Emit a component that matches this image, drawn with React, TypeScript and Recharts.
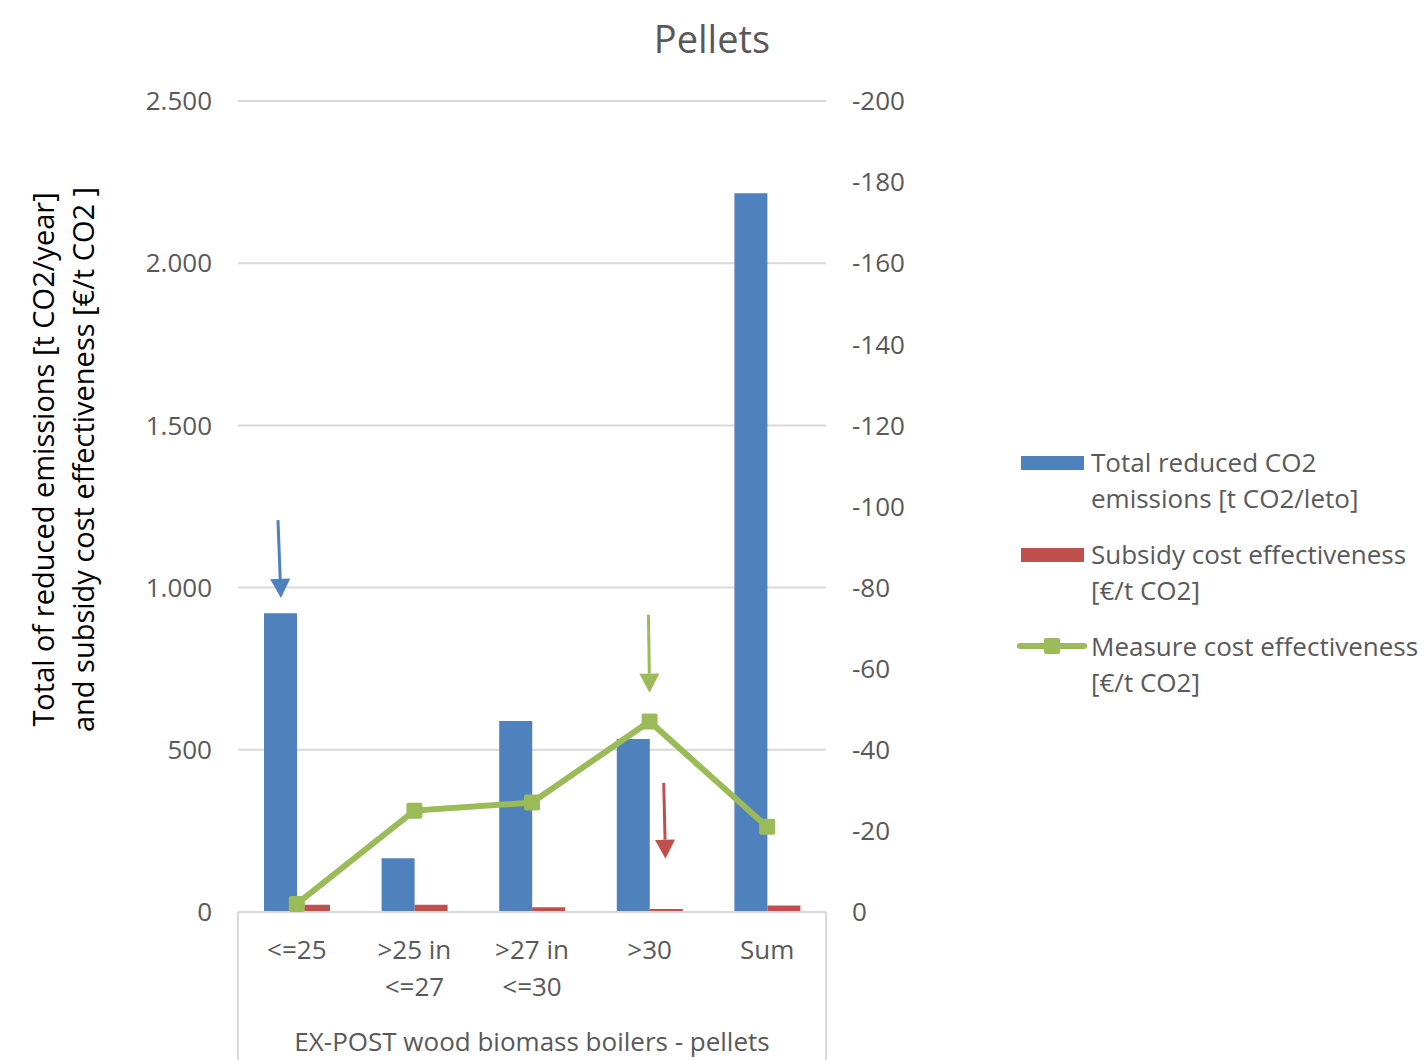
import { ComposedChart, Bar, Line, XAxis, YAxis, CartesianGrid, ReferenceLine } from "recharts";

const categories = ["<=25", ">25 in\n<=27", ">27 in\n<=30", ">30", "Sum"];
const reducedCO2 = [921, 166, 589, 533, 2216];
const subsidyCost = [22, 22, 15, 9, 20];
const measureCost = [-2, -25, -27, -47, -21];

const leftTicks = [0, 500, 1000, 1500, 2000, 2500];
const rightTicks = [0, -20, -40, -60, -80, -100, -120, -140, -160, -180, -200];

const seriesNames = [
    "Total reduced CO2\nemissions [t CO2/leto]",
    "Subsidy cost effectiveness\n[€/t CO2]",
    "Measure cost effectiveness\n[€/t CO2]",
];
const groupLabel = "EX-POST wood biomass boilers - pellets";
const yLabelLines = ["Total of reduced emissions [t CO2/year]", "and subsidy cost effectiveness [€/t CO2 ]"];

// arrows: [x on 0..5 category scale, y on left axis] start -> tip
const arrows = [
    { from: { x: 0.34, y: 1208 }, to: { x: 0.365, y: 968 }, color: "#4F81BD" },
    { from: { x: 3.49, y: 916 }, to: { x: 3.5, y: 676 }, color: "#9BBB59" },
    { from: { x: 3.62, y: 398 }, to: { x: 3.635, y: 164 }, color: "#C0504D" },
];

const BLUE = "#4F81BD";
const RED = "#C0504D";
const GREEN = "#9BBB59";
const TEXT = "#595959";
const GRID = "#D9D9D9";
const FONT = "'Open Sans', sans-serif";
const FS = 26;

const data = categories.map((c, i) => ({
    name: c,
    pos: i + 0.5,
    reduced: reducedCO2[i],
    subsidy: subsidyCost[i],
    measure: measureCost[i],
}));

const fmtThousands = (v: number) => String(v).replace(/\B(?=(\d{3})+(?!\d))/g, ".");

function CategoryTick(props: any) {
    const { x, y, payload } = props;
    const lines = String(payload.value).split("\n");
    return (
        <g>
            {lines.map((l, i) => (
                <text key={i} x={x} y={y + 47 + i * 37} textAnchor="middle" fill={TEXT} fontSize={FS} fontFamily={FONT}>
                    {l}
                </text>
            ))}
        </g>
    );
}

function GroupBox(props: any) {
    const { x, y, width, height } = props.viewBox;
    return (
        <g>
            <line x1={x} y1={y} x2={x} y2={y + height} stroke={GRID} strokeWidth={2} />
            <line x1={x + width} y1={y} x2={x + width} y2={y + height} stroke={GRID} strokeWidth={2} />
            <text x={x + width / 2} y={y + 139} textAnchor="middle" fill={TEXT} fontSize={FS} fontFamily={FONT}>
                {groupLabel}
            </text>
        </g>
    );
}

function YLabel(props: any) {
    const { x, y, height } = props.viewBox;
    const cy = y + height / 2 - 47;
    return (
        <g>
            {yLabelLines.map((l, i) => {
                const cx = x - 76 + i * 40;
                return (
                    <text key={i} x={cx} y={cy} transform={`rotate(-90 ${cx} ${cy})`} textAnchor="middle"
                        dominantBaseline="central" fill="#000" fontSize={29} fontFamily={FONT}>
                        {l}
                    </text>
                );
            })}
        </g>
    );
}

const makeArrow = (color: string) => (props: any) => {
    const { x1, y1, x2, y2 } = props;
    const ang = Math.atan2(y2 - y1, x2 - x1);
    const len = 19;
    const half = 10;
    const bx = x2 - len * Math.cos(ang);
    const by = y2 - len * Math.sin(ang);
    const px = -Math.sin(ang) * half;
    const py = Math.cos(ang) * half;
    return (
        <g>
            <line x1={x1} y1={y1} x2={bx} y2={by} stroke={color} strokeWidth={3} />
            <polygon points={`${x2},${y2} ${bx + px},${by + py} ${bx - px},${by - py}`} fill={color} />
        </g>
    );
};

function SquareDot(props: any) {
    const { cx, cy } = props;
    if (cx == null || cy == null) return null;
    return <rect x={cx - 8} y={cy - 8} width={16} height={16} rx={2} fill={GREEN} />;
}

function LegendBox() {
    const kinds = [BLUE, RED, GREEN];
    return (
        <div style={{ position: "absolute", left: 1017, top: 444, fontFamily: FONT, fontSize: FS, color: TEXT }}>
            {seriesNames.map((n, i) => (
                <div key={i} style={{ position: "relative", height: 92 }}>
                    {i < 2 ? (
                        <div style={{ position: "absolute", left: 4, top: 12, width: 63, height: 14, background: kinds[i] }} />
                    ) : (
                        <>
                            <div style={{ position: "absolute", left: 0, top: 15, width: 70, height: 6, background: GREEN, borderRadius: 3 }} />
                            <div style={{ position: "absolute", left: 27, top: 10, width: 16, height: 16, background: GREEN, borderRadius: 2 }} />
                        </>
                    )}
                    <div style={{ position: "absolute", left: 74, top: 0, lineHeight: "36px", whiteSpace: "pre" }}>{n}</div>
                </div>
            ))}
        </div>
    );
}

export default function App() {
    return (
        <div style={{ position: "absolute", left: 0, top: 0, width: 1424, height: 1060, background: "#fff", fontFamily: FONT }}>
            <div style={{ position: "absolute", left: 0, width: 1424, top: 12, textAlign: "center", fontSize: 38, color: TEXT }}>
                Pellets
            </div>
            <ComposedChart
                width={1424}
                height={1060}
                data={data}
                margin={{ top: 101, right: 498, bottom: 0, left: 118 }}
                barGap={0}
            >
                <CartesianGrid vertical={false} stroke={GRID} strokeWidth={2} yAxisId="left" xAxisId="cat" />
                <XAxis
                    xAxisId="cat"
                    dataKey="name"
                    height={148}
                    interval={0}
                    tickLine={false}
                    tickSize={0}
                    tickMargin={0}
                    axisLine={{ stroke: GRID, strokeWidth: 2 }}
                    tick={CategoryTick}
                    label={GroupBox}
                />
                <XAxis xAxisId="pos" dataKey="pos" type="number" domain={[0, 5]} allowDataOverflow hide orientation="top" />
                <YAxis
                    yAxisId="left"
                    width={120}
                    domain={[0, 2500]}
                    ticks={leftTicks}
                    tickFormatter={fmtThousands}
                    axisLine={false}
                    tickLine={false}
                    tickSize={0}
                    tickMargin={26}
                    tick={{ fill: TEXT, fontSize: FS, fontFamily: FONT }}
                    label={YLabel}
                />
                <YAxis
                    yAxisId="right"
                    orientation="right"
                    width={100}
                    domain={[-200, 0]}
                    reversed
                    ticks={rightTicks}
                    axisLine={false}
                    tickLine={false}
                    tickSize={0}
                    tickMargin={26}
                    tick={{ fill: TEXT, fontSize: FS, fontFamily: FONT }}
                />
                <Bar xAxisId="cat" yAxisId="left" dataKey="reduced" fill={BLUE} barSize={33} isAnimationActive={false} />
                <Bar xAxisId="cat" yAxisId="left" dataKey="subsidy" fill={RED} barSize={33} isAnimationActive={false} />
                <Line
                    xAxisId="cat"
                    yAxisId="right"
                    dataKey="measure"
                    stroke={GREEN}
                    strokeWidth={6}
                    dot={SquareDot}
                    activeDot={false}
                    isAnimationActive={false}
                />
                {arrows.map((a, i) => (
                    <ReferenceLine
                        key={i}
                        xAxisId="pos"
                        yAxisId="left"
                        segment={[a.from, a.to]}
                        stroke={a.color}
                        ifOverflow="visible"
                        shape={makeArrow(a.color)}
                    />
                ))}
            </ComposedChart>
            <LegendBox />
        </div>
    );
}
